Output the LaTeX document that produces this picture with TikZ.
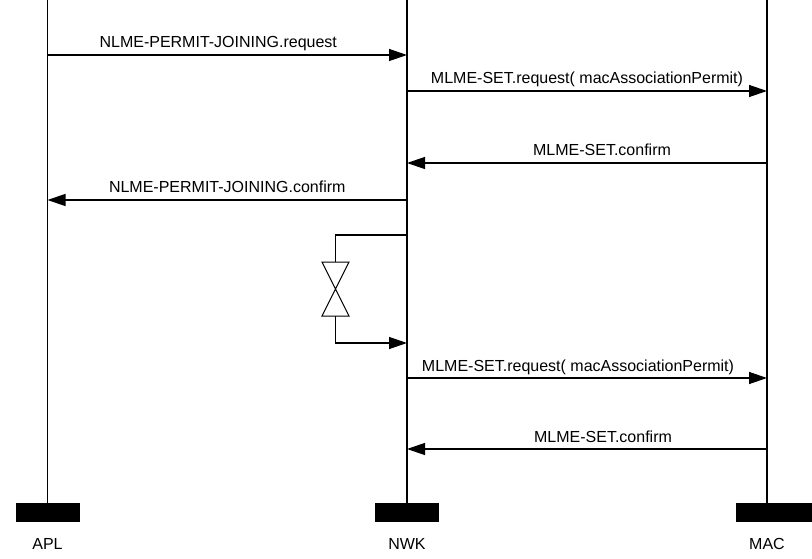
\documentclass[tikz,border=0pt]{standalone}
\usepackage{fontspec}
\setmainfont{Liberation Sans}
\usetikzlibrary{arrows.meta}
\begin{document}
\begin{tikzpicture}[x=1pt,y=-1pt, line width=1.3pt,
  msg/.style={-{Triangle[length=18pt,width=12pt]}},
  lbl/.style={font=\fontsize{16}{19}\selectfont, inner sep=0pt, anchor=base, yshift=7pt},
  bar/.style={fill=black, draw=none, minimum width=64pt, minimum height=19pt, inner sep=0pt},
  ename/.style={font=\fontsize{16}{19}\selectfont, inner sep=0pt, anchor=base}]
\useasboundingbox (0,0) rectangle (812,559);
% entity bars
\node[bar] (aplbar) at (47.5,512) {};
\node[bar] (nwkbar) at (407,512) {};
\node[bar, minimum width=77pt, anchor=west] (macbar) at (735.5,512) {};
\node[ename] (apl) at (47.5,549) {APL};
\node[ename] (nwk) at (407,549) {NWK};
\node[ename] (mac) at (767,549) {MAC};
% lifelines
\coordinate (aplTop) at (47.5,0);
\coordinate (nwkTop) at (407,0);
\coordinate (macTop) at (767,0);
\coordinate (aplBot) at (47.5,503);
\coordinate (nwkBot) at (407,503);
\coordinate (macBot) at (767,503);
\draw (aplTop) -- (aplBot);
\draw (nwkTop) -- (nwkBot);
\draw (macTop) -- (macBot);
% message points
\foreach \n/\y in {1/55,2/91,3/163,4/200,5/235,6/378,7/449,8/343} {
  \coordinate (a\n) at (47.5,\y);
  \coordinate (n\n) at (407,\y);
  \coordinate (m\n) at (767,\y);
}
\draw[msg] (a1) -- node[lbl, xshift=-9pt] {NLME-PERMIT-JOINING.request} (n1);
\draw[msg] (n2) -- node[lbl] {MLME-SET.request( macAssociationPermit)} (m2);
\draw[msg] (m3) -- node[lbl, xshift=15pt] {MLME-SET.confirm} (n3);
\draw[msg] (n4) -- node[lbl] {NLME-PERMIT-JOINING.confirm} (a4);
\draw[msg] (n6) -- node[lbl, xshift=-9pt] {MLME-SET.request( macAssociationPermit)} (m6);
\draw[msg] (m7) -- node[lbl, xshift=16pt] {MLME-SET.confirm} (n7);
% timer
\coordinate (tTop) at (335.5,262);
\coordinate (tBot) at (335.5,316);
\draw (n5) -| (tTop);
\draw[line width=1pt, line join=miter] (322,262) -- (349,262) -- (322,316) -- (349,316) -- cycle;
\draw[msg] (tBot) |- (n8);
\end{tikzpicture}
\end{document}
